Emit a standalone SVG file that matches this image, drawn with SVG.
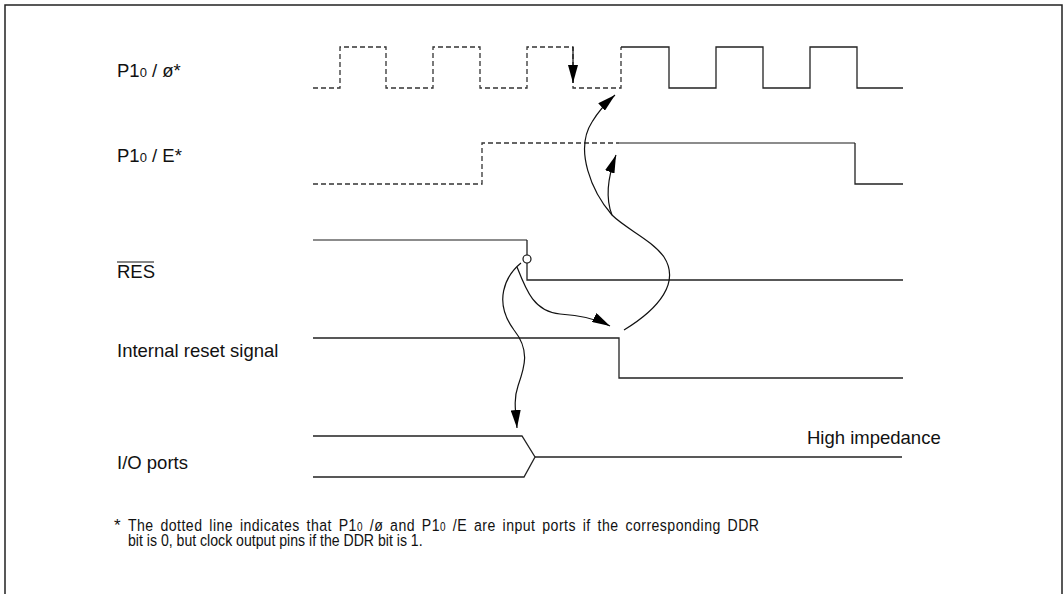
<svg xmlns="http://www.w3.org/2000/svg" width="1064" height="594" viewBox="0 0 1064 594">
<style>
.lbl{font-family:"Liberation Sans",Arial,sans-serif;font-size:18.5px;fill:#111}
.sub{font-size:13px}
.foot{font-family:"Liberation Sans",Arial,sans-serif;font-size:17px;fill:#111}
.sig{fill:none;stroke:#222;stroke-width:1.3}
.gray{fill:none;stroke:#666;stroke-width:1.5}
.dash{fill:none;stroke:#333;stroke-width:1.3;stroke-dasharray:5,3}
.curve{fill:none;stroke:#111;stroke-width:1.2}
</style>
<defs>
<marker id="ah" viewBox="0 0 18 10" refX="18" refY="5" markerWidth="18" markerHeight="10" markerUnits="userSpaceOnUse" orient="auto">
<path d="M0,0 L18,5 L0,10 Z" fill="#000"/>
</marker>
</defs>
<rect width="1064" height="594" fill="#fff"/>
<g id="frame">
<path d="M5,594 V5 H1062 V594" fill="none" stroke="#222" stroke-width="1.5"/>
</g>
<g id="node-p1phi">
<text class="lbl" x="117" y="77">P1<tspan class="sub">0</tspan> / ø*</text>
<path class="dash" d="M313,88 H340 V47 H386 V88 H433 V47 H480 V88 H527 V47 H573 V88 H621 V47"/>
<path class="sig" d="M621,47 H669 V88 H716 V47 H763 V88 H810 V47 H857 V88 H903"/>
</g>
<g id="node-p1e">
<text class="lbl" x="117" y="162">P1<tspan class="sub">0</tspan> / E*</text>
<path class="dash" d="M313,184 H482 V143 H619"/>
<path class="gray" d="M619,143 H855"/>
<path class="sig" d="M855,143 V184 H903"/>
</g>
<g id="node-res">
<text class="lbl" x="117" y="278">RES</text>
<line x1="117" y1="262" x2="154" y2="262" stroke="#111" stroke-width="1.2"/>
<path class="gray" d="M313,240 H527"/>
<path class="sig" d="M527,240 V280 H903"/>
<circle cx="527" cy="259" r="4" fill="#fff" stroke="#111" stroke-width="1.2"/>
</g>
<g id="node-internal">
<text class="lbl" x="117" y="357">Internal reset signal</text>
<path class="sig" d="M313,338 H619 V378 H903"/>
</g>
<g id="node-io">
<text class="lbl" x="117" y="469">I/O ports</text>
<path class="sig" d="M313,436 H522 L535,457 L524,477 H313"/>
<path class="sig" d="M535,457 H902"/>
<text class="lbl" x="807" y="444">High impedance</text>
</g>
<g id="connectors">
<path class="curve" d="M573,47 V83" marker-end="url(#ah)"/>
<path class="curve" d="M521,263 C505,276 493,302 514,330 C530,350 525,366 518,386 C513,400 516,414 517,428" marker-end="url(#ah)"/>
<path class="curve" d="M517,267 C526,290 534,312 560,314 C578,315 595,318 610,326" marker-end="url(#ah)"/>
<path class="curve" d="M624,330 C660,308 680,282 664,257 C652,240 626,229 612,215 C592,192 574,150 592,122 C598,112 606,103 615,95" marker-end="url(#ah)"/>
<path class="curve" d="M612,215 C606,200 606,182 616,155" marker-end="url(#ah)"/>
</g>
<g id="footnote">
<text class="foot" x="114" y="531">*</text>
<g transform="scale(0.83,1)">
<text class="foot" x="154.2" y="531" letter-spacing="0.55" word-spacing="3">The dotted line indicates that P1<tspan font-size="12">0</tspan> /ø and P1<tspan font-size="12">0</tspan> /E are input ports if the corresponding DDR</text>
<text class="foot" x="154.2" y="546">bit is 0, but clock output pins if the DDR bit is 1.</text>
</g>
</g>
</svg>
